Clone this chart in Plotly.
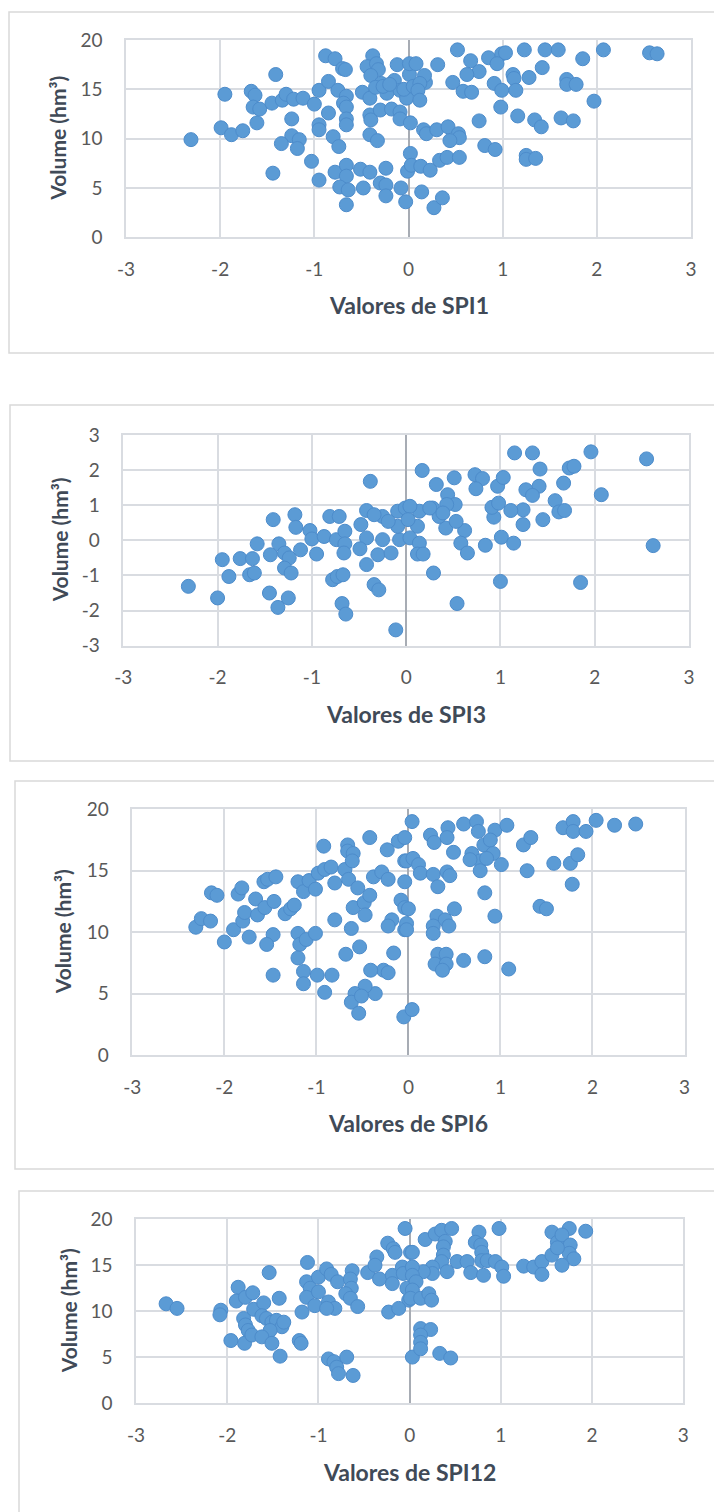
import plotly.graph_objects as go

# ---------------- data ----------------
spi1_x = [-2.31, -1.95, -1.99, -1.88, -1.76, -1.67, -1.63, -1.65, -1.58, -1.61, -1.41, -1.44, -1.45, -1.34,
          -1.30, -1.22, -1.12, -1.24, -1.24, -1.16, -1.35, -1.18, -1.00, -0.95, -0.95, -0.95, -1.03, -0.95,
          -0.88, -0.78, -0.70, -0.67, -0.85, -0.75, -0.85, -0.80, -0.74, -0.66, -0.69, -0.66, -0.66, -0.66,
          -0.78, -0.66, -0.66, -0.73, -0.64, -0.66, -0.51, -0.41, -0.48, -0.38, -0.44, -0.34, -0.32, -0.40,
          -0.49, -0.41, -0.41, -0.40, -0.41, -0.33, -0.29, -0.23, -0.30, -0.18, -0.15, -0.09, -0.09, -0.24,
          -0.30, -0.24, -0.24, -0.08, -0.03, -0.12, -0.09, -0.02, 0.02, 0.02, -0.01, 0.01, -0.35, -0.27,
          -0.20, -0.05, 0.05, 0.18,
          0.52, 0.01, 0.08, 0.31, 0.66, 0.85, 0.99, 1.03, 0.94, 1.23, 1.45, 1.59, 2.07, 2.56, 2.64, 1.85,
          1.42, 0.75, 0.62, 0.17, 1.11, 1.12, 1.28, 1.68, 1.68, 1.78, 0.47, 0.12, 0.58, 0.67, 0.91, 0.99,
          1.14, 0.10, 0.12, 1.97, 0.98, 0.75, 1.16, 1.34, 1.41, 1.62, 1.75, 0.16, 0.19, 0.30, 0.42, 0.53,
          0.54, 0.44, 0.81, 0.92, 1.25, 1.25, 1.35, 0.03, 0.13, 0.23, 0.33, 0.41, 0.54, 0.14, 0.27, 0.36]
spi1_y = [9.9, 14.5, 11.1, 10.4, 10.8, 14.8, 14.4, 13.2, 13.0, 11.6, 16.5, 6.5, 13.6, 13.9,
          14.5, 14.0, 14.1, 12.0, 10.3, 9.9, 9.5, 9.0, 13.5, 14.9, 11.4, 10.9, 7.7, 5.8,
          18.4, 18.1, 17.1, 17.0, 15.8, 14.9, 12.6, 10.2, 9.2, 14.3, 13.6, 13.2, 12.0, 11.4,
          6.6, 7.3, 6.2, 5.1, 4.8, 3.3, 6.9, 6.6, 5.0, 18.4, 17.3, 17.6, 17.0, 16.4,
          14.7, 14.1, 12.4, 11.9, 10.4, 9.8, 15.6, 14.6, 12.9, 13.0, 15.9, 12.7, 12.0, 7.0,
          5.5, 5.3, 4.2, 5.0, 3.6, 17.5, 14.9, 14.1, 11.6, 8.5, 6.7, 16.5, 15.2, 15.3,
          15.5, 15.0, 15.3, 15.7,
          19.0, 17.6, 17.6, 17.5, 17.9, 18.2, 18.6, 18.7, 17.6, 19.0, 19.0, 19.0, 19.0, 18.7, 18.6, 18.1,
          17.2, 16.8, 16.5, 16.4, 16.5, 16.1, 16.2, 16.0, 15.5, 15.5, 15.7, 15.6, 14.8, 14.7, 15.6, 14.9,
          14.9, 14.9, 13.9, 13.8, 13.2, 11.8, 12.3, 11.9, 11.2, 12.1, 11.8, 10.9, 10.5, 10.9, 11.2, 10.5,
          10.1, 9.8, 9.3, 8.9, 8.3, 7.9, 8.0, 7.3, 7.2, 6.8, 7.8, 8.1, 8.1, 4.6, 3.0, 4.0]

spi3_x = [-2.31, -2.00, -1.95, -1.88, -1.76, -1.63, -1.66, -1.61, -1.58, -1.41, -1.44, -1.45, -1.36, -1.35,
          -1.29, -1.24, -1.29, -1.22, -1.25, -1.18, -1.17, -1.12, -1.02, -1.00, -0.95, -0.87, -0.81, -0.71,
          -0.74, -0.65, -0.65, -0.66, -0.78, -0.73, -0.67, -0.68, -0.64, -0.48, -0.42, -0.38, -0.42, -0.49,
          -0.30, -0.42, -0.34, -0.29, -0.25, -0.16, -0.25, -0.07, -0.11, -0.09, -0.01, -0.09, -0.34, -0.19,
          0.17, 0.32, 0.44, 0.51, 0.73, 0.81, 0.74, 0.97, 1.03, 1.15, 1.34, 1.42, 1.27, 1.41, 1.34, 1.67,
          1.73, 1.78, 1.96, 2.55, 2.07, 1.58, 1.62, 1.68, 1.45, 1.24, 1.24, 1.11, 0.93, 0.91, 0.98, 1.01,
          1.14, 0.84, 0.62, 0.58, 0.65, 0.52, 0.43, 0.42, 0.53, 0.28, 0.14, 0.12, 0.04, 0.02, 0.04, 0.14,
          0.12, 0.18, 0.29, 0.54, 1.00, 1.85, 2.62, 0.35, 0.25, 0.39]
spi3_y = [-1.31, -1.64, -0.55, -1.03, -0.52, -0.52, -0.98, -0.93, -0.10, 0.59, -0.41, -1.50, -1.91, -0.10,
          -0.36, -0.50, -0.79, -0.93, -1.64, 0.73, 0.37, -0.27, 0.28, 0.04, -0.39, 0.11, 0.68, 0.68,
          0.02, 0.26, -0.10, -0.36, -1.12, -1.03, -0.98, -1.80, -2.10, 0.45, 0.85, 1.68, 0.07, -0.24,
          -0.41, -0.69, -1.26, -1.41, 0.68, -0.36, 0.02, 0.02, -2.55, 0.83, 0.92, 0.40, 0.73, 0.54,
          1.99, 1.59, 1.30, 1.78, 1.87, 1.76, 1.47, 1.54, 1.79, 2.49, 2.49, 2.03, 1.44, 1.54, 1.28, 1.63,
          2.06, 2.11, 2.52, 2.32, 1.30, 1.13, 0.81, 0.85, 0.59, 0.87, 0.45, 0.85, 0.66, 0.94, 1.06, 0.09,
          -0.08, -0.14, 0.28, -0.08, -0.36, 1.02, 1.02, 0.35, 0.54, 0.92, 0.83, 0.40, 0.97, 0.59, 0.07, -0.08,
          -0.39, -0.39, -0.93, -1.80, -1.17, -1.20, -0.15, 0.68, 0.92, 0.78]

spi6_x = [-2.31, -2.25, -2.15, -2.14, -2.08, -2.00, -1.90, -1.85, -1.81, -1.80, -1.78, -1.73, -1.66, -1.64,
          -1.56, -1.57, -1.53, -1.44, -1.46, -1.47, -1.54, -1.47, -1.34, -1.28, -1.24, -1.20, -1.14, -1.08,
          -1.20, -1.18, -1.20, -1.11, -1.14, -1.14, -1.01, -1.01, -0.99, -0.98, -0.91, -0.91, -0.92, -0.84,
          -0.80, -0.83, -0.80, -0.69, -0.66, -0.66, -0.60, -0.61, -0.65, -0.55, -0.62, -0.68, -0.60, -0.48,
          -0.42, -0.47, -0.53, -0.42, -0.38, -0.29, -0.22, -0.23, -0.11, -0.04, -0.04, -0.04, -0.08, -0.04,
          -0.18, -0.22, -0.04, -0.16, -0.27, -0.22, -0.41, -0.36, -0.47, -0.58, -0.62, -0.54, -0.05, -0.51,
          0.04, 0.24, 0.28, 0.43, 0.42, 0.60, 0.74, 0.76, 0.94, 1.07, 0.49, 0.69, 0.82, 0.89, 0.92, 0.78,
          0.67, 0.78, 1.01, 0.85, -0.02, 0.05, 0.11, 0.13, 0.27, 0.42, 0.45, 0.32, 1.25, 1.33, 1.29, 1.58,
          1.76, 1.84, 1.78, 1.68, 1.79, 1.79, 1.93, 2.04, 2.24, 2.47, 0.83, 0.94, 1.43, 1.50, 0.50, 0.31,
          0.40, 0.27, 0.44, 0.27, 0.00, -0.02, -0.02, 0.32, 0.41, 0.29, 0.41, 0.37, 0.60, 0.83, 1.09, 0.04]
spi6_y = [10.4, 11.1, 10.9, 13.2, 13.0, 9.2, 10.2, 13.1, 13.6, 10.9, 11.6, 9.6, 12.7, 11.4,
          12.0, 14.1, 14.3, 14.5, 12.5, 9.8, 9.0, 6.5, 11.5, 11.9, 12.2, 14.1, 13.3, 14.2,
          9.9, 9.0, 7.9, 9.4, 6.8, 5.8, 9.9, 13.5, 6.5, 14.8, 15.1, 5.1, 17.0, 15.3,
          14.0, 6.5, 11.0, 15.1, 17.1, 16.6, 16.4, 15.8, 14.3, 13.6, 10.3, 8.2, 12.0, 12.4,
          13.0, 11.4, 8.8, 17.7, 14.5, 14.9, 14.3, 16.7, 17.4, 17.7, 15.8, 14.1, 12.6, 12.0,
          11.0, 10.5, 10.2, 8.3, 6.9, 6.7, 6.9, 5.0, 5.6, 5.0, 4.3, 3.4, 3.1, 4.8,
          19.0, 17.9, 17.3, 18.5, 17.7, 18.8, 19.0, 18.2, 18.3, 18.7, 16.5, 16.4, 17.1, 17.5, 16.4, 15.8,
          15.9, 15.0, 15.5, 16.0, 15.8, 16.0, 15.5, 14.8, 14.7, 14.9, 14.6, 13.7, 17.1, 17.7, 15.0, 15.6,
          15.6, 16.3, 13.9, 18.5, 19.0, 18.2, 18.2, 19.1, 18.7, 18.8, 13.2, 11.3, 12.1, 11.9, 11.9, 11.3,
          11.0, 10.5, 10.5, 9.9, 11.9, 10.7, 10.2, 8.2, 8.2, 7.4, 7.4, 6.9, 7.7, 8.0, 7.0, 3.7]

spi12_x = [-2.67, -2.55, -2.07, -2.08, -1.96, -1.81, -1.88, -1.90, -1.80, -1.72, -1.82, -1.80, -1.77, -1.73,
           -1.71, -1.60, -1.62, -1.54, -1.43, -1.57, -1.51, -1.46, -1.40, -1.53, -1.62, -1.51, -1.42, -1.38,
           -1.21, -1.19, -1.18, -1.12, -1.13, -1.09, -1.13, -1.04, -1.00, -0.91, -0.86, -0.79, -1.00, -0.89,
           -0.82, -0.91, -0.63, -0.65, -0.64, -0.70, -0.65, -0.57, -0.89, -0.83, -0.80, -0.78, -0.69, -0.62,
           -0.46, -0.36, -0.38, -0.33, -0.24, -0.18, -0.16, -0.19, -0.19, -0.08, -0.07, -0.03, -0.01, -0.23,
           -0.12, -0.05, 0.03, 0.01,
           0.17, 0.28, 0.35, 0.46, 0.39, 0.37, 0.37, 0.35, 0.03, 0.52, 0.25, 0.25, 0.41, 0.15, 0.03, 0.63,
           0.67, 0.81, 0.76, 0.72, 0.78, 0.79, 0.79, 0.85, 0.94, 1.01, 1.03, 0.98, 1.25, 1.36, 1.45, 1.45,
           1.56, 1.75, 1.93, 1.62, 1.67, 1.76, 1.56, 1.75, 1.80, 1.67, 1.62, 0.03, 0.07, 0.03, 0.01, 0.12,
           0.21, 0.24, 0.12, 0.23, 0.12, 0.12, 0.12, 0.33, 0.45]
spi12_y = [10.8, 10.3, 10.1, 9.6, 6.8, 6.5, 12.6, 11.1, 11.5, 12.0, 9.2, 8.5, 7.9, 7.4,
           10.2, 10.9, 9.5, 14.2, 11.4, 9.2, 8.8, 9.0, 8.3, 7.9, 7.2, 6.5, 5.1, 8.8,
           6.8, 6.5, 9.9, 15.3, 13.2, 12.5, 11.5, 10.6, 13.7, 14.6, 14.0, 13.2, 12.1, 11.0,
           10.3, 10.3, 14.4, 13.5, 12.5, 11.9, 11.4, 10.5, 4.8, 4.5, 3.9, 3.2, 5.0, 3.0,
           14.2, 15.9, 15.0, 13.5, 17.4, 16.8, 16.4, 13.9, 13.0, 14.8, 14.1, 12.5, 11.2, 9.9,
           10.3, 19.0, 5.0, 16.4,
           17.8, 18.4, 18.8, 19.0, 17.6, 17.0, 16.1, 15.4, 16.4, 15.4, 14.8, 14.1, 14.3, 14.3, 14.8, 15.4,
           14.2, 13.9, 18.6, 17.5, 17.2, 16.4, 15.5, 15.5, 15.4, 14.8, 13.8, 19.0, 14.9, 14.8, 15.4, 14.0,
           18.6, 19.0, 18.7, 17.5, 18.3, 17.2, 16.1, 16.3, 15.7, 15.0, 16.9, 13.9, 13.2, 12.3, 11.4, 11.4,
           11.9, 11.2, 8.1, 8.0, 7.4, 6.6, 5.9, 5.4, 4.9]

x_ticks = [-3, -2, -1, 0, 1, 2, 3]
vol_ticks = [0, 5, 10, 15, 20]
spi3_ticks = [-3, -2, -1, 0, 1, 2, 3]
x_titles = ["Valores de SPI1", "Valores de SPI3", "Valores de SPI6", "Valores de SPI12"]
y_title = "Volume (hm³)"

# ---------------- layout (pixel geometry) ----------------
W, H = 714, 1512
FONT = "Lato, 'Open Sans', sans-serif"
GRID = "#D9DCE1"
TICK_COL = "#595959"
TITLE_COL = "#404A57"
MARK = "#5B9BD5"

def px(x):
    return x / W

def py(y):
    return 1 - y / H

panels = [
    dict(l=126, r=691, t=40, b=237.3, ytx=58, xty=305, box=(9, 12, 353)),
    dict(l=123.3, r=689, t=435, b=645.7, ytx=59, xty=714, box=(10, 405, 761)),
    dict(l=132.3, r=684.5, t=809.3, b=1055, ytx=62, xty=1123, box=(15, 781, 1169)),
    dict(l=136, r=683.3, t=1219.3, b=1403, ytx=68, xty=1472, box=(19, 1191, 1530)),
]
datasets = [(spi1_x, spi1_y, vol_ticks), (spi3_x, spi3_y, spi3_ticks),
            (spi6_x, spi6_y, vol_ticks), (spi12_x, spi12_y, vol_ticks)]

fig = go.Figure()
shapes = []
annotations = []
for i, (p, (xs, ys, yt)) in enumerate(zip(panels, datasets)):
    n = "" if i == 0 else str(i + 1)
    fig.add_trace(go.Scatter(
        x=xs, y=ys, mode="markers", xaxis="x" + n, yaxis="y" + n,
        marker=dict(size=14, color=MARK, line=dict(color="#4D8CCB", width=1)),
        showlegend=False, hoverinfo="x+y"))
    common = dict(showgrid=True, gridcolor=GRID, gridwidth=1.5, showline=True, mirror=True,
                  linecolor=GRID, linewidth=1.5, layer="below traces", automargin=False,
                  tickfont=dict(family=FONT, size=19, color=TICK_COL),
                  ticks="outside", tickcolor="rgba(0,0,0,0)", fixedrange=True)
    fig.update_layout(**{
        "xaxis" + n: dict(domain=[px(p["l"]), px(p["r"])], anchor="y" + n, range=[-3, 3],
                          tickvals=x_ticks, ticktext=[str(v) for v in x_ticks], ticklen=14,
                          zeroline=True, zerolinecolor="#A7ACB4", zerolinewidth=1.5, **common),
        "yaxis" + n: dict(domain=[py(p["b"]), py(p["t"])], anchor="x" + n,
                          range=[yt[0], yt[-1]], tickvals=yt, ticktext=[str(v) for v in yt],
                          ticklen=18, zeroline=False, **common),
    })
    bl, bt, bb = p["box"]
    shapes.append(dict(type="rect", xref="paper", yref="paper", x0=px(bl), x1=1.02,
                       y0=py(bb), y1=py(bt), line=dict(color="#D9D9D9", width=1.5),
                       fillcolor="rgba(0,0,0,0)", layer="below"))
    annotations.append(dict(text="<b>%s</b>" % x_titles[i], xref="paper", yref="paper",
                            x=px((p["l"] + p["r"]) / 2), y=py(p["xty"]), showarrow=False,
                            xanchor="center", yanchor="middle",
                            font=dict(family=FONT, size=23, color=TITLE_COL)))
    annotations.append(dict(text="<b>%s</b>" % y_title, xref="paper", yref="paper",
                            x=px(p["ytx"]), y=py((p["t"] + p["b"]) / 2), showarrow=False,
                            textangle=-90, xanchor="center", yanchor="middle",
                            font=dict(family=FONT, size=21, color=TITLE_COL)))

fig.update_layout(width=W, height=H, autosize=False, margin=dict(l=0, r=0, t=0, b=0, pad=0),
                  paper_bgcolor="white", plot_bgcolor="white", hovermode=False,
                  shapes=shapes, annotations=annotations)

fig.write_html("out.html", config={"responsive": False, "displayModeBar": False},
               post_script="document.body.style.margin='0';document.body.style.overflow='hidden';")
